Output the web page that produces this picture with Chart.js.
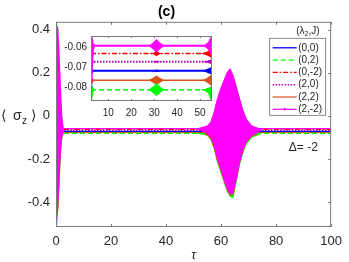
<!DOCTYPE html>
<html>
<head>
<meta charset="utf-8">
<script src="https://cdn.jsdelivr.net/npm/chart.js@4.4.1/dist/chart.umd.min.js"></script>
<style>
  html, body { margin: 0; padding: 0; background: #fff; }
  #wrap { position: relative; width: 349px; height: 262px; }
  #main { position: absolute; left: 0; top: 0; }
  #inset { position: absolute; left: 56px; top: 26px; }
</style>
</head>
<body>
<div id="wrap">
  <canvas id="main" width="349" height="262"></canvas>
  <canvas id="inset" width="160" height="96"></canvas>
</div>
<script>
/* ══════════════════════════════════════
   DATA
══════════════════════════════════════ */
const seriesNames = ["(0,0)", "(0,2)", "(0,-2)", "(2,0)", "(2,2)", "(2,-2)"];
const steadyLevels = [-0.0718, -0.0812, -0.0632, -0.0673, -0.0765, -0.0594];
const lineSpan = [2.9, 100];

const xTicks = [0, 20, 40, 60, 80, 100];
const yTicks = [-0.4, -0.2, 0, 0.2, 0.4];
const insetXTicks = [10, 20, 30, 40, 50];
const insetYTicks = [-0.08, -0.07, -0.06];

const legendTitle = "(λ2,J)";
const deltaLabel = "Δ= -2";

// main panel: start transient + burst envelopes
const mainTau  = [0, 0.4, 0.8, 1.2, 1.6, 2.0, 2.4, 2.9, 51, 54.9, 56.1, 57.3, 58.5, 59.7, 60.9, 62.1, 63.3, 64.5, 65.7, 66.9, 68.1, 69.3, 71.1, 73.5, 75];
const pinkUp   = [0.40, 0.42, 0.41, 0.33, 0.20, 0.08, -0.02, -0.058, -0.058, -0.045, -0.028, 0.018, 0.08, 0.127, 0.166, 0.204, 0.223, 0.189, 0.135, 0.08, 0.026, -0.013, -0.044, -0.055, -0.058];
const pinkLo   = [-0.33, -0.51, -0.42, -0.32, -0.20, -0.12, -0.085, -0.061, -0.061, -0.083, -0.098, -0.137, -0.199, -0.245, -0.295, -0.34, -0.365, -0.36, -0.292, -0.214, -0.16, -0.121, -0.093, -0.078, -0.061];
const greenUp  = [0.30, 0.33, 0.30, 0.22, 0.12, 0.03, -0.04, -0.081, -0.081, -0.05, -0.033, 0.013, 0.075, 0.12, 0.16, 0.198, 0.218, 0.184, 0.13, 0.075, 0.021, -0.018, -0.049, -0.07, -0.081];
const greenLo  = [-0.30, -0.45, -0.44, -0.34, -0.22, -0.13, -0.095, -0.081, -0.081, -0.092, -0.11, -0.152, -0.215, -0.26, -0.307, -0.352, -0.377, -0.382, -0.304, -0.226, -0.17, -0.132, -0.102, -0.09, -0.081];
const orangeUp = [0.30, 0.33, 0.30, 0.22, 0.12, 0.03, -0.04, -0.076, -0.076, -0.05, -0.033, 0.013, 0.075, 0.12, 0.16, 0.198, 0.218, 0.184, 0.13, 0.075, 0.021, -0.018, -0.049, -0.07, -0.076];
const orangeLo = [-0.28, -0.47, -0.44, -0.35, -0.23, -0.14, -0.092, -0.076, -0.076, -0.09, -0.107, -0.148, -0.209, -0.252, -0.3, -0.347, -0.372, -0.366, -0.296, -0.217, -0.163, -0.125, -0.097, -0.084, -0.076];

// inset: zoom on the plateau, tau 2.45 .. 55.2
const insetTau = [2.45, 3.0, 3.6, 4.2, 27.5, 29.5, 31, 32.5, 34.5, 50, 52, 53.5, 54.5, 55.2];
const insetBlueUp   = [-0.0690, -0.0705, -0.0715, -0.0718, -0.0718, -0.0716, -0.0712, -0.0716, -0.0718, -0.0718, -0.0714, -0.0706, -0.0702, -0.0698];
const insetBlueLo   = [-0.0750, -0.0732, -0.0721, -0.0718, -0.0718, -0.0720, -0.0724, -0.0720, -0.0718, -0.0718, -0.0722, -0.0730, -0.0734, -0.0738];
const insetGreenUp  = [-0.0770, -0.0790, -0.0805, -0.0812, -0.0812, -0.0796, -0.0779, -0.0796, -0.0812, -0.0812, -0.0808, -0.0802, -0.0798, -0.0790];
const insetGreenLo  = [-0.0868, -0.0860, -0.0820, -0.0812, -0.0812, -0.0828, -0.0845, -0.0828, -0.0812, -0.0812, -0.0818, -0.0830, -0.0860, -0.0868];
const insetRedUp    = [-0.0600, -0.0615, -0.0628, -0.0632, -0.0632, -0.0630, -0.0618, -0.0630, -0.0632, -0.0632, -0.0627, -0.0620, -0.0615, -0.0600];
const insetRedLo    = [-0.0665, -0.0648, -0.0636, -0.0632, -0.0632, -0.0634, -0.0646, -0.0634, -0.0632, -0.0632, -0.0637, -0.0645, -0.0650, -0.0662];
const insetPurpleUp = [-0.0655, -0.0665, -0.0671, -0.0673, -0.0673, -0.0672, -0.0668, -0.0672, -0.0673, -0.0673, -0.0671, -0.0667, -0.0663, -0.0660];
const insetPurpleLo = [-0.0690, -0.0680, -0.0675, -0.0673, -0.0673, -0.0674, -0.0678, -0.0674, -0.0673, -0.0673, -0.0675, -0.0679, -0.0683, -0.0686];
const insetOrangeUp = [-0.0735, -0.0750, -0.0761, -0.0765, -0.0765, -0.0753, -0.0741, -0.0753, -0.0765, -0.0765, -0.0760, -0.0750, -0.0740, -0.0735];
const insetOrangeLo = [-0.0800, -0.0782, -0.0769, -0.0765, -0.0765, -0.0777, -0.0789, -0.0777, -0.0765, -0.0765, -0.0770, -0.0780, -0.0790, -0.0795];
const insetPinkUp   = [-0.0545, -0.0545, -0.0580, -0.0594, -0.0594, -0.0577, -0.0560, -0.0577, -0.0594, -0.0594, -0.0590, -0.0575, -0.0552, -0.0545];
const insetPinkLo   = [-0.0800, -0.0790, -0.0620, -0.0594, -0.0594, -0.0611, -0.0628, -0.0611, -0.0594, -0.0594, -0.0598, -0.0612, -0.0635, -0.0650];

/* ══════════════════════════════════════
   STYLE
══════════════════════════════════════ */
const FONT = '"Liberation Sans", Arial, Helvetica, sans-serif';
const INK = "#262626";
const seriesColors = ["#0000ff", "#00ff00", "#ff0000", "#bf00bf", "#d95319", "#ff00ff"];
const seriesDash = [[], [5, 3], [5, 2, 1.5, 2], [1.5, 1.5], [], []];
const seriesWidth = [1.3, 1.4, 1.2, 1.6, 1.2, 1.2];
const insetWidth = [2, 1.4, 1.3, 1.8, 1.4, 2];

Chart.defaults.font.family = FONT;
Chart.defaults.color = INK;

function pts(xs, ys) {
  return xs.map((x, i) => ({ x, y: ys[i] }));
}

function band(xs, up, lo, color, order) {
  return [
    { data: pts(xs, up), fill: "+1", backgroundColor: color, borderColor: "transparent", borderWidth: 0, pointRadius: 0, order },
    { data: pts(xs, lo), fill: false, borderColor: "transparent", borderWidth: 0, pointRadius: 0, order },
  ];
}

function line(i, xs, width, order) {
  return {
    label: seriesNames[i],
    data: xs.map((x) => ({ x, y: steadyLevels[i] })),
    borderColor: seriesColors[i],
    borderDash: seriesDash[i],
    borderWidth: width,
    pointRadius: 0,
    fill: false,
    order,
  };
}

/* ══════════════════════════════════════
   PLUGINS
══════════════════════════════════════ */
const boxTicks = {
  id: "boxTicks",
  afterDatasetsDraw(chart, args, opts) {
    const { ctx, chartArea: a, scales: { x, y } } = chart;
    ctx.save();
    ctx.strokeStyle = opts.color;
    ctx.lineWidth = 1;
    ctx.setLineDash([]);
    ctx.strokeRect(a.left + 0.5, a.top + 0.5, a.width - 1, a.height - 1);
    ctx.beginPath();
    x.ticks.forEach((t) => {
      const px = Math.round(x.getPixelForValue(t.value)) + 0.5;
      ctx.moveTo(px, a.bottom);
      ctx.lineTo(px, a.bottom - opts.len);
      ctx.moveTo(px, a.top);
      ctx.lineTo(px, a.top + opts.len);
    });
    y.ticks.forEach((t) => {
      const py = Math.round(y.getPixelForValue(t.value)) + 0.5;
      ctx.moveTo(a.left, py);
      ctx.lineTo(a.left + opts.len, py);
      ctx.moveTo(a.right, py);
      ctx.lineTo(a.right - opts.len, py);
    });
    ctx.stroke();
    ctx.restore();
  },
};

const panelText = {
  id: "panelText",
  afterDraw(chart) {
    const { ctx, chartArea: a, scales: { x, y } } = chart;
    ctx.save();
    ctx.fillStyle = INK;
    ctx.textBaseline = "middle";
    ctx.textAlign = "left";

    // y label  < sigma_z >
    const yl = y.getPixelForValue(0);
    ctx.font = `14px ${FONT}`;
    ctx.fillText("\u27E8", 1, yl);
    ctx.fillText("σ", 13, yl);
    ctx.font = `10px ${FONT}`;
    ctx.fillText("z", 22, yl + 5);
    ctx.font = `14px ${FONT}`;
    ctx.fillText("\u27E9", 31, yl);

    // detuning note
    ctx.font = `12px ${FONT}`;
    ctx.textAlign = "center";
    ctx.fillText(deltaLabel, x.getPixelForValue(89.9), y.getPixelForValue(-0.149));

    // legend box
    const lx = a.right - 61.5, ly = a.top + 16.5, lw = 56, lh = 77;
    ctx.fillStyle = "#fff";
    ctx.fillRect(lx, ly, lw, lh);
    ctx.strokeStyle = "#707070";
    ctx.lineWidth = 0.8;
    ctx.strokeRect(lx, ly, lw, lh);

    // legend title with subscript
    ctx.fillStyle = INK;
    ctx.textAlign = "left";
    let tx = lx + 26.5;
    const ty = a.top + 9;
    const head = legendTitle.slice(0, 2), sub = legendTitle.slice(2, 3), tail = legendTitle.slice(3);
    ctx.font = `10px ${FONT}`;
    ctx.fillText(head, tx, ty);
    tx += ctx.measureText(head).width;
    ctx.font = `7px ${FONT}`;
    ctx.fillText(sub, tx, ty + 3);
    tx += ctx.measureText(sub).width;
    ctx.font = `10px ${FONT}`;
    ctx.fillText(tail, tx, ty);

    const lines = chart.data.datasets.filter((d) => d.label);
    lines.forEach((ds, i) => {
      const ry = ly + 9.5 + i * 12.3;
      ctx.strokeStyle = ds.borderColor;
      ctx.lineWidth = ds.borderWidth;
      ctx.setLineDash(ds.borderDash);
      ctx.beginPath();
      ctx.moveTo(lx + 3, ry);
      ctx.lineTo(lx + 27, ry);
      ctx.stroke();
      ctx.setLineDash([]);
      if (i === 5) {
        ctx.fillStyle = ds.borderColor;
        ctx.beginPath();
        ctx.arc(lx + 15, ry, 1.3, 0, Math.PI * 2);
        ctx.fill();
      }
      ctx.fillStyle = INK;
      ctx.fillText(ds.label, lx + 28.5, ry);
    });
    ctx.restore();
  },
};

/* ══════════════════════════════════════
   MAIN PANEL
══════════════════════════════════════ */
const mainSets = [
  ...band(mainTau, pinkUp, pinkLo, seriesColors[5], 0),
  ...seriesNames.map((_, i) => line(i, lineSpan, seriesWidth[i], 10)),
  ...band(mainTau, orangeUp, orangeLo, seriesColors[4], 20),
  ...band(mainTau, greenUp, greenLo, seriesColors[1], 30),
];

new Chart(document.getElementById("main"), {
  type: "line",
  data: { datasets: mainSets },
  options: {
    responsive: false,
    animation: false,
    devicePixelRatio: 1,
    layout: { padding: { left: 0, right: 16, top: 0, bottom: 0 } },
    plugins: {
      legend: { display: false },
      tooltip: { enabled: false },
      title: {
        display: true,
        text: "(c)",
        color: "#000",
        font: { size: 14, weight: "bold" },
        padding: { top: 4, bottom: 1 },
      },
      boxTicks: { color: "#7a7a7a", len: 3 },
    },
    scales: {
      x: {
        type: "linear",
        min: 0,
        max: 100,
        afterBuildTicks: (s) => { s.ticks = xTicks.map((v) => ({ value: v })); },
        afterFit: (s) => { s.height = 35; },
        grid: { display: false, drawTicks: false },
        border: { display: false },
        ticks: { font: { size: 13 }, padding: 7, autoSkip: false, maxRotation: 0, color: INK },
        title: { display: true, text: "τ", font: { size: 13, style: "italic", lineHeight: 1 }, padding: 0, color: INK },
      },
      y: {
        type: "linear",
        min: -0.516,
        max: 0.437,
        afterBuildTicks: (s) => { s.ticks = yTicks.map((v) => ({ value: v })); },
        afterFit: (s) => { s.width = 56; },
        grid: { display: false, drawTicks: false },
        border: { display: false },
        ticks: { font: { size: 13 }, padding: 6, autoSkip: false, color: INK, callback: (v) => String(v) },
      },
    },
  },
  plugins: [boxTicks, panelText],
});

/* ══════════════════════════════════════
   INSET
══════════════════════════════════════ */
const insetUp = [insetBlueUp, insetGreenUp, insetRedUp, insetPurpleUp, insetOrangeUp, insetPinkUp];
const insetLo = [insetBlueLo, insetGreenLo, insetRedLo, insetPurpleLo, insetOrangeLo, insetPinkLo];
const insetSpan = [insetTau[0], insetTau[insetTau.length - 1]];

const insetSets = [];
seriesNames.forEach((_, i) => {
  const order = i === 5 ? 0 : 10 + i;
  insetSets.push(line(i, insetSpan, insetWidth[i], order));
  insetSets.push(...band(insetTau, insetUp[i], insetLo[i], seriesColors[i], order));
});

new Chart(document.getElementById("inset"), {
  type: "line",
  data: { datasets: insetSets },
  options: {
    responsive: false,
    animation: false,
    devicePixelRatio: 1,
    layout: { padding: { left: 0, right: 4, top: 4, bottom: 0 } },
    plugins: {
      legend: { display: false },
      tooltip: { enabled: false },
      boxTicks: { color: "#7a7a7a", len: 2 },
    },
    scales: {
      x: {
        type: "linear",
        min: 2.45,
        max: 55.2,
        afterBuildTicks: (s) => { s.ticks = insetXTicks.map((v) => ({ value: v })); },
        afterFit: (s) => { s.height = 21; },
        grid: { display: false, drawTicks: false },
        border: { display: false },
        ticks: { font: { size: 10 }, padding: 6, autoSkip: false, maxRotation: 0, color: INK },
      },
      y: {
        type: "linear",
        min: -0.0868,
        max: -0.0545,
        afterBuildTicks: (s) => { s.ticks = insetYTicks.map((v) => ({ value: v })); },
        afterFit: (s) => { s.width = 35; },
        grid: { display: false, drawTicks: false },
        border: { display: false },
        ticks: { font: { size: 10 }, padding: 4, autoSkip: false, color: INK, callback: (v) => v.toFixed(2) },
      },
    },
  },
  plugins: [boxTicks],
});
</script>
</body>
</html>
